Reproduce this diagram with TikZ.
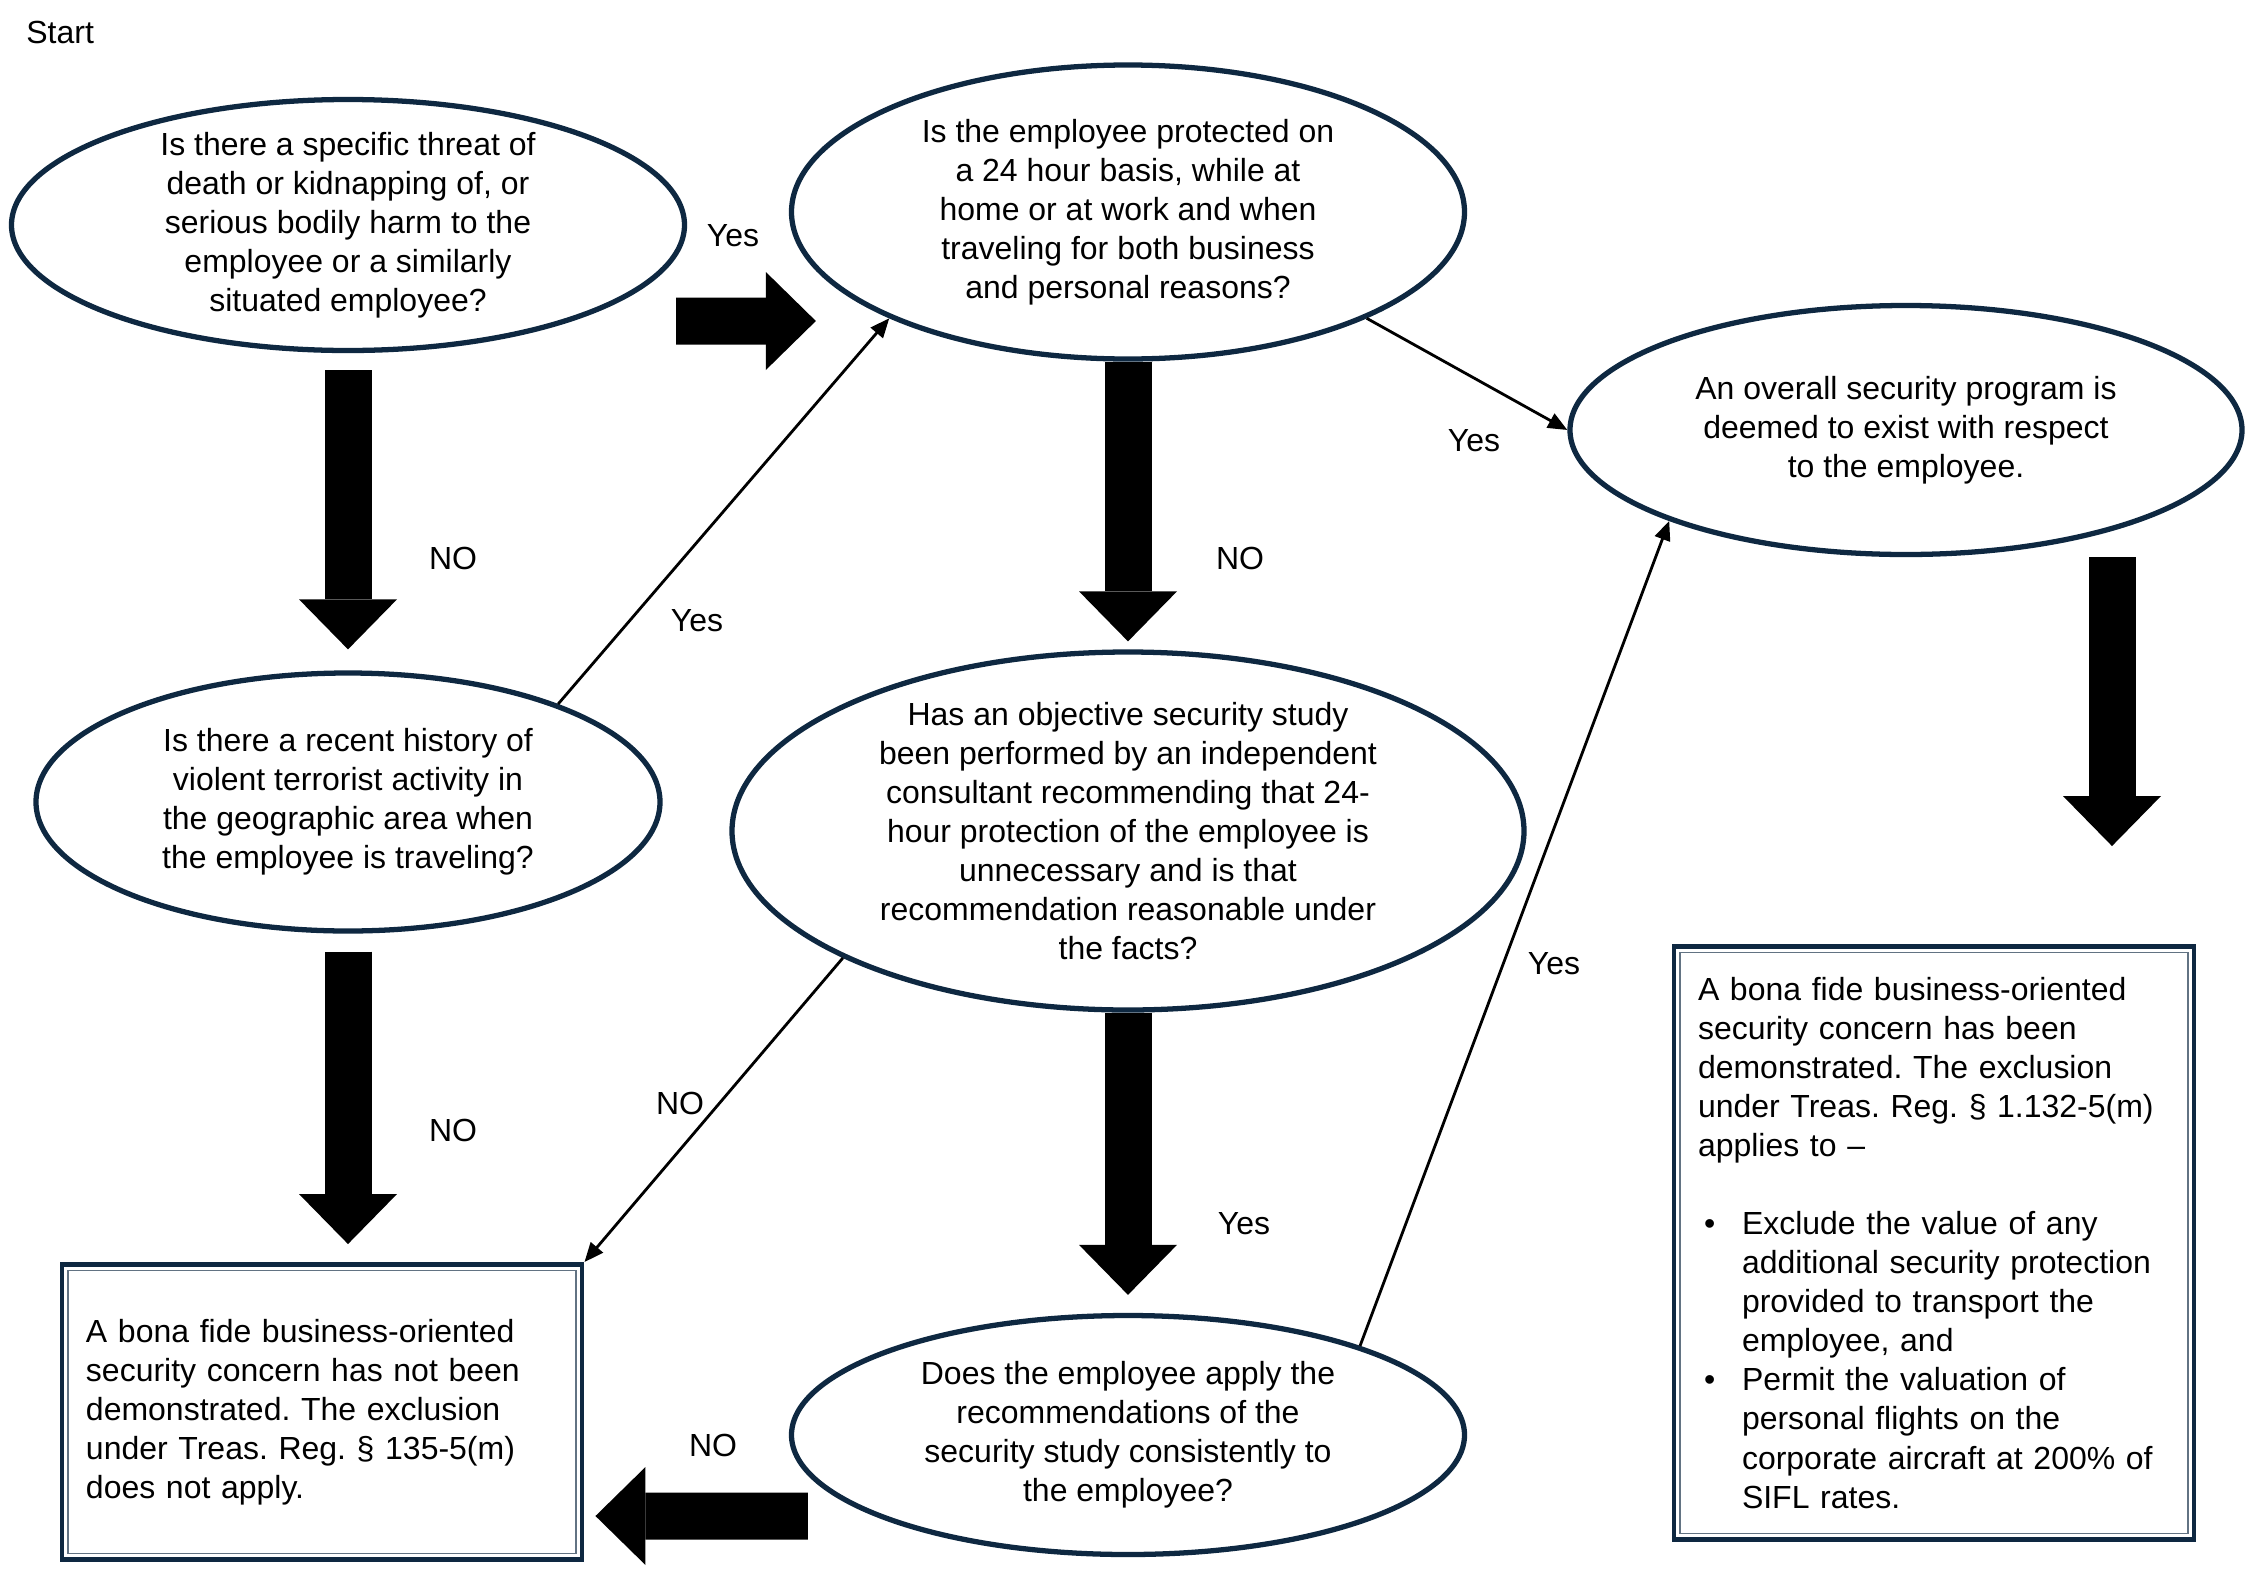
\documentclass[tikz,border=0pt]{standalone}
\usepackage{fontspec}
\setmainfont{Liberation Sans}
\usetikzlibrary{shapes.geometric,arrows.meta,calc}
\definecolor{navy}{HTML}{0E2841}
\newcommand{\bulitem}{\makebox[0.44cm][l]{\hspace{0.06cm}\textbullet}}
\newcommand{\bulcont}{\hspace*{0.44cm}}
\frenchspacing

\begin{document}
\begin{tikzpicture}[
  every node/.style={font=\fontsize{9.1}{11.1}\selectfont},
  question/.style={ellipse, draw=navy, line width=1.5pt, align=center,
    inner sep=0pt, inner ysep=-6pt},
  verdict/.style={rectangle, draw=navy, line width=1.4pt, align=left,
    inner xsep=0.24cm, text width=4.72cm, minimum width=5.2cm},
  innerframe/.style={draw=navy!65, line width=0.5pt},
  blockarrow/.style={line width=0.47cm,
    -{Triangle[length=0.5cm, width=0.98cm, line width=0pt]}},
  link/.style={line width=0.8pt, -{Triangle[length=5.5pt, width=4.5pt]}}
]
\useasboundingbox (0,0) rectangle (22.45,-15.70);

\node[anchor=west] (start) at (0.14,-0.32) {Start};

% questions
\node[question, minimum width=6.73cm, minimum height=2.51cm] (threat) at (3.48,-2.25)
  {Is there a specific threat of\\death or kidnapping of, or\\serious bodily harm to the\\employee or a similarly\\situated employee?};
\node[question, minimum width=6.73cm, minimum height=2.94cm] (guard) at (11.28,-2.12)
  {Is the employee protected on\\a 24 hour basis, while at\\home or at work and when\\traveling for both business\\and personal reasons?};
\node[question, minimum width=6.24cm, minimum height=2.58cm] (history) at (3.48,-8.02)
  {Is there a recent history of\\violent terrorist activity in\\the geographic area when\\the employee is traveling?};
\node[question, minimum width=7.92cm, minimum height=3.58cm] (study) at (11.28,-8.31)
  {Has an objective security study\\been performed by an independent\\consultant recommending that 24-\\hour protection of the employee is\\unnecessary and is that\\recommendation reasonable under\\the facts?};
\node[question, minimum width=6.73cm, minimum height=2.39cm] (apply) at (11.28,-14.35)
  {Does the employee apply the\\recommendations of the\\security study consistently to\\the employee?};
\node[question, minimum width=6.72cm, minimum height=2.49cm] (program) at (19.06,-4.30)
  {An overall security program is\\deemed to exist with respect\\to the employee.};

% outcomes
\node[verdict, minimum height=2.95cm] (nobox) at (3.22,-14.12)
  {A bona fide business-oriented\\security concern has not been\\demonstrated. The exclusion\\under Treas. Reg. § 135-5(m)\\does not apply.};
\node[verdict, minimum height=5.93cm] (yesbox) at (19.34,-12.43)
  {A bona fide business-oriented\\security concern has been\\demonstrated. The exclusion\\under Treas. Reg. § 1.132-5(m)\\applies to –\\[11.1pt]
   \bulitem Exclude the value of any\\\bulcont additional security protection\\\bulcont provided to transport the\\\bulcont employee, and\\
   \bulitem Permit the valuation of\\\bulcont personal flights on the\\\bulcont corporate aircraft at 200\% of\\\bulcont SIFL rates.};
\foreach \bx in {nobox,yesbox}
  \draw[innerframe] ([shift={(0.085,-0.085)}]\bx.north west) rectangle ([shift={(-0.085,0.085)}]\bx.south east);

% block arrows
\draw[blockarrow] ($(threat.east)+(-0.11,-0.96)$) -- ($(guard.west)+(0.27,-1.09)$);
\draw[blockarrow] ($(threat.south)+(0,-0.17)$) -- ($(history.north)+(0,0.21)$);
\draw[blockarrow] ($(history.south)+(0,-0.18)$) -- ($(history.south |- nobox.north)+(0,0.18)$);
\draw[blockarrow] (guard.south) -- ($(study.north)+(0,0.08)$);
\draw[blockarrow] (study.south) -- ($(apply.north)+(0,0.18)$);
\draw[blockarrow] ($(program.south)+(2.06,0)$) -- ($(yesbox.north)+(1.78,0.98)$);
\draw[blockarrow] ($(apply.west)+(0.19,-0.81)$) -- ($(nobox.east)+(0.11,-1.04)$);

% thin links
\draw[link] (history.25) -- (guard.204);
\draw[link] (guard.336) -- (program.west);
\draw[link] (study.204) -- (nobox.north east);
\draw[link] (apply.21) -- (program.201);

% answers
\node (yesthreat) at (7.33,-2.36) {Yes};
\node (nothreat) at (4.53,-5.58) {NO};
\node (yeshistory) at (6.97,-6.21) {Yes};
\node (noguard) at (12.40,-5.58) {NO};
\node (yesguard) at (14.74,-4.41) {Yes};
\node (nohistory) at (4.53,-11.30) {NO};
\node (nostudy) at (6.80,-11.03) {NO};
\node (yesstudy) at (12.44,-12.24) {Yes};
\node (yesapply) at (15.54,-9.64) {Yes};
\node (noapply) at (7.13,-14.45) {NO};
\end{tikzpicture}
\end{document}
